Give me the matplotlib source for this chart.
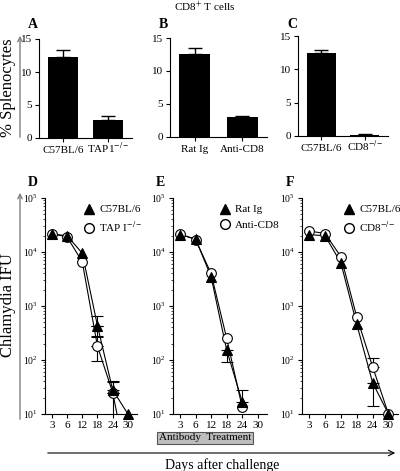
import numpy as np
import matplotlib
matplotlib.use('Agg')
import matplotlib.pyplot as plt
from matplotlib.lines import Line2D
from matplotlib.patches import FancyArrowPatch

plt.rcParams['font.family'] = ['Liberation Serif', 'DejaVu Serif']
plt.rcParams['mathtext.fontset'] = 'stix'

# top row: % splenocytes (CD8+ T cells)
bar_labels_a = ['C57BL/6', 'TAP1$^{-/-}$']
bar_vals_a = [12.2, 2.8]
bar_err_a = [1.2, 0.5]
bar_labels_b = ['Rat Ig', 'Anti-CD8']
bar_vals_b = [12.5, 3.0]
bar_err_b = [1.0, 0.15]
bar_labels_c = ['C57BL/6', 'CD8$^{-/-}$']
bar_vals_c = [12.5, 0.15]
bar_err_c = [0.4, 0.1]

# bottom row: Chlamydia IFU over days after challenge
days = ['3', '6', '12', '18', '24', '30']
nan = np.nan
d_tri = [2.15e4, 2.0e4, 9.5e3, 430, 28, 10]
d_tri_hi = [nan, nan, nan, 650, 39, nan]
d_tri_lo = [nan, nan, nan, 280, nan, nan]
d_circ = [2.2e4, 1.9e4, 6.6e3, 180, 25, 1]
d_circ_hi = [nan, nan, nan, 270, 40, nan]
d_circ_lo = [nan, nan, nan, 95, 3, nan]

e_tri = [2.1e4, 1.75e4, 3.5e3, 155, 17]
e_tri_hi = [nan, nan, nan, nan, 28]
e_tri_lo = [nan, nan, nan, 90, nan]
e_circ = [2.15e4, 1.7e4, 4.0e3, 255, 13.5]
e_circ_hi = [nan, nan, nan, nan, nan]
e_circ_lo = [nan, nan, nan, nan, nan]

f_tri = [2.1e4, 2.0e4, 6.3e3, 460, 38, 10]
f_tri_hi = [nan, nan, nan, nan, nan, nan]
f_tri_lo = [nan, nan, nan, nan, 14, nan]
f_circ = [2.45e4, 2.2e4, 8.2e3, 630, 75, 10]
f_circ_hi = [nan, nan, nan, nan, 110, nan]
f_circ_lo = [nan, nan, nan, nan, nan, nan]

W, H = 400, 471
fig = plt.figure(figsize=(4, 4.71), dpi=100)


def box(l, r, top, bot):
    return [l / W, 1 - bot / H, (r - l) / W, (bot - top) / H]


def bar_panel(rect, labels, vals, errs, letter, lx, ly):
    ax = fig.add_axes(rect)
    x = np.arange(len(vals))
    ax.bar(x, vals, width=0.66, color='black')
    ax.errorbar(x, vals, yerr=[np.zeros(len(errs)), errs], fmt='none',
                ecolor='black', elinewidth=1, capsize=5, capthick=1)
    ax.set_xlim(-0.53, 1.53)
    ax.set_ylim(0, 15)
    ax.set_yticks([0, 5, 10, 15])
    ax.set_xticks(x)
    ax.set_xticklabels(labels, fontsize=8)
    ax.tick_params(axis='y', labelsize=8, length=3, width=0.8, pad=2)
    ax.tick_params(axis='x', labelsize=8, length=3, width=0.8, pad=7.5)
    # align on the baseline so superscripts hang above instead of pushing down
    for t in ax.get_xticklabels():
        t.set_verticalalignment('baseline')
    for s in ['top', 'right']:
        ax.spines[s].set_visible(False)
    fig.text(lx / W, 1 - ly / H, letter, fontsize=10, fontweight='bold',
             ha='center', va='center')
    return ax


bar_panel(box(39, 132, 39, 138), bar_labels_a, bar_vals_a, bar_err_a, 'A', 33, 25)
bar_panel(box(170, 267, 38, 137), bar_labels_b, bar_vals_b, bar_err_b, 'B', 163, 25)
bar_panel(box(298, 388, 36, 136), bar_labels_c, bar_vals_c, bar_err_c, 'C', 292, 25)


def draw_series(ax, vals, hi, lo, marker, face):
    vals = np.array(vals, float)
    x = np.arange(len(vals))
    ax.plot(x, vals, color='black', lw=0.8, zorder=2)
    hi = np.array(hi, float)
    lo = np.array(lo, float)
    for i in range(len(vals)):
        if np.isfinite(hi[i]):
            ax.errorbar([x[i]], [vals[i]], yerr=[[0], [hi[i] - vals[i]]], fmt='none',
                        ecolor='black', elinewidth=0.8, capsize=4, capthick=0.8, zorder=2)
        if np.isfinite(lo[i]):
            ax.errorbar([x[i]], [vals[i]], yerr=[[vals[i] - lo[i]], [0]], fmt='none',
                        ecolor='black', elinewidth=0.8, capsize=4, capthick=0.8, zorder=2)
    keep = vals >= 10
    ax.plot(x[keep], vals[keep], ls='none', marker=marker, ms=7,
            mfc=face, mec='black', mew=0.8, clip_on=False, zorder=3)


def line_panel(rect, tri, tri_hi, tri_lo, circ, circ_hi, circ_lo, names, letter, lx, ly, legx):
    ax = fig.add_axes(rect)
    ax.set_yscale('log')
    draw_series(ax, circ, circ_hi, circ_lo, 'o', 'white')
    draw_series(ax, tri, tri_hi, tri_lo, '^', 'black')
    ax.set_ylim(10, 1e5)
    ax.set_xlim(-0.45, 5.6)
    ax.set_xticks(np.arange(len(days)))
    ax.set_xticklabels(days)
    ax.tick_params(axis='x', labelsize=8, length=3, width=0.8, pad=2)
    ax.tick_params(axis='y', which='major', labelsize=7, length=3, width=0.8, pad=2)
    ax.tick_params(axis='y', which='minor', length=1.5, width=0.5)
    for s in ['top', 'right']:
        ax.spines[s].set_visible(False)
    handles = [Line2D([], [], ls='none', marker='^', ms=7, mfc='black', mec='black'),
               Line2D([], [], ls='none', marker='o', ms=7, mfc='white', mec='black')]
    ax.legend(handles, names, loc='upper right', bbox_to_anchor=(legx, 1.0),
              frameon=False, fontsize=8, handlelength=1, handletextpad=0.4,
              labelspacing=0.5, borderaxespad=0.2)
    fig.text(lx / W, 1 - ly / H, letter, fontsize=10, fontweight='bold',
             ha='center', va='center')
    return ax


line_panel(box(45, 137, 198, 414), d_tri, d_tri_hi, d_tri_lo, d_circ, d_circ_hi, d_circ_lo,
           ['C57BL/6', 'TAP I$^{-/-}$'], 'D', 33, 183, 1.13)
line_panel(box(173, 267, 198, 414), e_tri, e_tri_hi, e_tri_lo, e_circ, e_circ_hi, e_circ_lo,
           ['Rat Ig', 'Anti-CD8'], 'E', 160, 183, 1.2)
line_panel(box(302, 398, 198, 414), f_tri, f_tri_hi, f_tri_lo, f_circ, f_circ_hi, f_circ_lo,
           ['C57BL/6', 'CD8$^{-/-}$'], 'F', 290, 182, 1.1)

# title and shared annotations
fig.text(205 / W, 1 - 7 / H, 'CD8$^{+}$ T cells', fontsize=8, ha='center', va='center')

fig.add_artist(FancyArrowPatch((20 / W, 1 - 140 / H), (20 / W, 1 - 33 / H),
                               transform=fig.transFigure, arrowstyle='->', mutation_scale=8,
                               color='gray', lw=1))
fig.text(8 / W, 1 - 88 / H, '% Splenocytes', rotation=90, fontsize=12,
         ha='center', va='center')
fig.add_artist(FancyArrowPatch((20 / W, 1 - 422 / H), (20 / W, 1 - 190 / H),
                               transform=fig.transFigure, arrowstyle='->', mutation_scale=8,
                               color='gray', lw=1))
fig.text(8 / W, 1 - 305 / H, 'Chlamydia IFU', rotation=90, fontsize=12,
         ha='center', va='center')

fig.add_artist(FancyArrowPatch((45 / W, 1 - 453 / H), (398 / W, 1 - 453 / H),
                               transform=fig.transFigure, arrowstyle='->', mutation_scale=10,
                               color='black', lw=0.8))
fig.text(222 / W, 1 - 465 / H, 'Days after challenge', fontsize=10, ha='center', va='center')

fig.text(205 / W, 1 - 438 / H, 'Antibody  Treatment', fontsize=8, ha='center', va='center',
         bbox=dict(boxstyle='square,pad=0.15', fc='#bdbdbd', ec='#555555', lw=0.8))

fig.savefig('out.png', dpi=100)
